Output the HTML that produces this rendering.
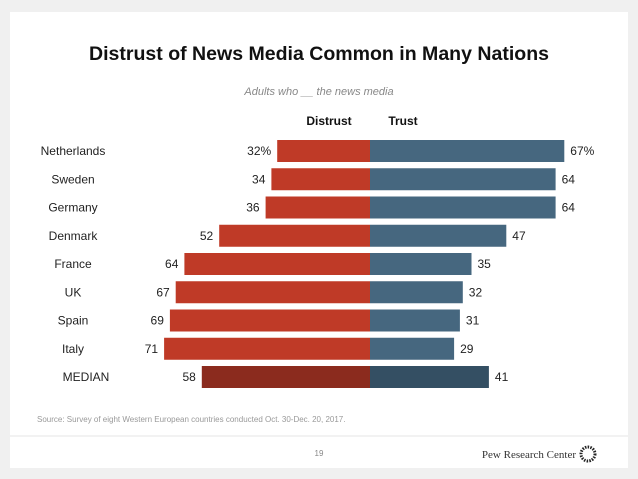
<!DOCTYPE html>
<html><head><meta charset="utf-8"><style>
body{margin:0;width:638px;height:479px;background:#f0f0f0;font-family:"Liberation Sans",sans-serif;overflow:hidden}
#card{position:absolute;left:10px;top:12px;width:618px;height:456px;background:#fff}
</style></head><body>
<div id="card"></div>
<svg width="638" height="479" style="position:absolute;left:0;top:0">
<text x="319" y="60" text-anchor="middle" font-size="19" font-weight="bold" fill="#111" textLength="460" lengthAdjust="spacingAndGlyphs">Distrust of News Media Common in Many Nations</text>
<text x="319" y="95" text-anchor="middle" font-size="11" font-style="italic" fill="#888">Adults who __ the news media</text>
<text x="329" y="125" text-anchor="middle" font-size="12" font-weight="bold" fill="#111">Distrust</text>
<text x="403" y="125" text-anchor="middle" font-size="12" font-weight="bold" fill="#111">Trust</text>
<g id="bars"></g>
<text x="37" y="422" font-size="8" fill="#999">Source: Survey of eight Western European countries conducted Oct. 30-Dec. 20, 2017.</text>
<line x1="10" y1="436" x2="628" y2="436" stroke="#e4e4e4"/>
<text x="319" y="456" text-anchor="middle" font-size="8" fill="#888">19</text>
<text x="576" y="458" text-anchor="end" font-size="11" font-family="Liberation Serif,serif" fill="#333">Pew Research Center</text>
<circle cx="588" cy="454" r="7" fill="none" stroke="#222" stroke-width="3" stroke-dasharray="1.5 1.2"/>
</svg>
<script>
const categories=["Netherlands","Sweden","Germany","Denmark","France","UK","Spain","Italy","MEDIAN"];
const distrust=[32,34,36,52,64,67,69,71,58];
const trust=[67,64,64,47,35,32,31,29,41];
const ns="http://www.w3.org/2000/svg";
const g=document.getElementById("bars");
const cx=370,k=2.9,y0=151,step=28.25,bh=22;
const x=v=>v*k, y=i=>y0+i*step;
function mk(t,a){const e=document.createElementNS(ns,t);for(const n in a)e.setAttribute(n,a[n]);g.appendChild(e);return e;}
categories.forEach((c,i)=>{
 const med=i===categories.length-1;
 const l=mk("text",{x:med?86:73,y:y(i)+4,"text-anchor":"middle","font-size":12,fill:"#222"});
 l.textContent=c;
 
 
 const d=mk("rect",{x:cx-x(distrust[i]),y:y(i)-bh/2,width:x(distrust[i]),height:bh,fill:med?"#8b2b1e":"#bf3a27"});
 
 
 const t=mk("rect",{x:cx,y:y(i)-bh/2,width:x(trust[i]),height:bh,fill:med?"#344f63":"#46677f"});
 
 
 const dv=mk("text",{x:cx-x(distrust[i])-6,y:y(i)+4,"text-anchor":"end","font-size":12,fill:"#222"});
 dv.textContent=distrust[i]+(i===0?"%":"");
 
 
 const tv=mk("text",{x:cx+x(trust[i])+6,y:y(i)+4,"font-size":12,fill:"#222"});
 tv.textContent=trust[i]+(i===0?"%":"");
 
 
});
</script>
</body></html>
